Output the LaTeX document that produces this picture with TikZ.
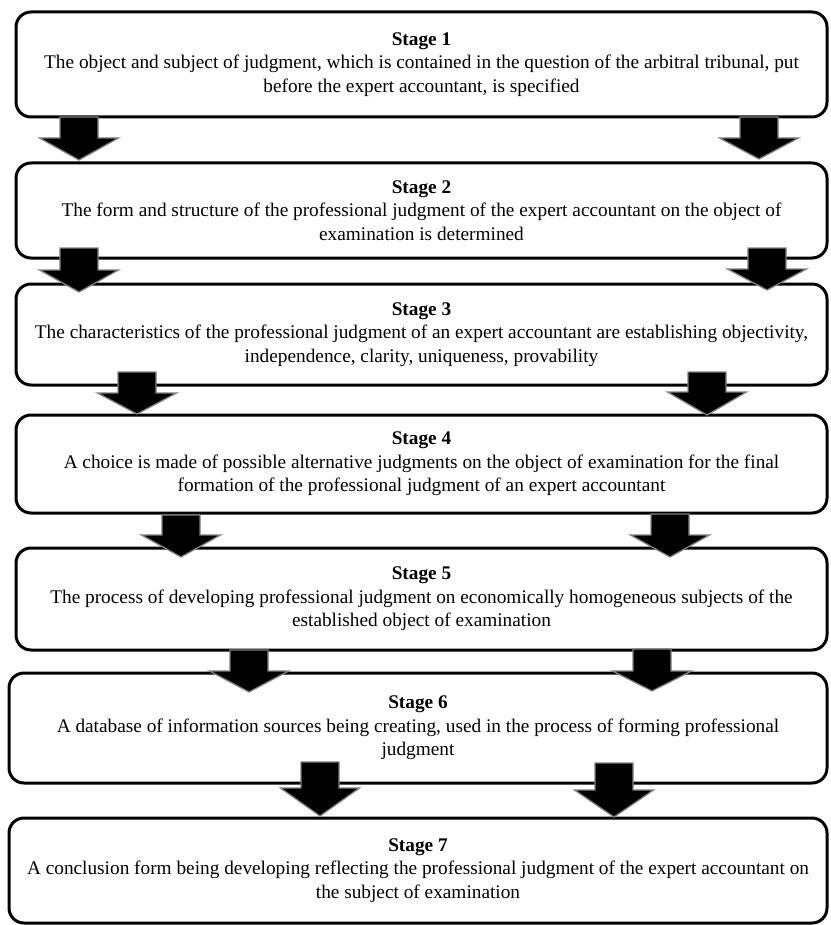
\documentclass[tikz,border=0pt]{standalone}
\usepackage{fontspec}
\setmainfont{Liberation Serif}
\usetikzlibrary{calc}
\tikzset{
  stagebox/.style={draw=black, line width=3pt, rounded corners=15pt, fill=white,
    align=center, inner sep=0pt, font=\fontsize{19.3}{23.5}\selectfont},
  blockarr/.style={fill=black, draw=black!50, line width=1.3pt, line join=miter},
}
% #1 centre x, #2 top y, #3 shoulder y, #4 tip y
\newcommand{\stagearrow}[4]{%
  \draw[blockarr] ({#1-19},#2) -- ({#1+19},#2) -- ({#1+19},#3) -- ({#1+39.5},#3)
    -- (#1,#4) -- ({#1-39.5},#3) -- ({#1-19},#3) -- cycle;}
\begin{document}
\begin{tikzpicture}[x=1pt,y=-1pt]
\useasboundingbox (0,0) rectangle (830,925);
\node[stagebox, minimum width=811pt, minimum height=105pt] (s1) at (421.5,64.5)
  {\textbf{Stage 1}\\The object and subject of judgment, which is contained in the question of the arbitral tribunal, put\\before the expert accountant, is specified};
\node[stagebox, minimum width=811pt, minimum height=95pt] (s2) at (421.5,210.5)
  {\textbf{Stage 2}\\The form and structure of the professional judgment of the expert accountant on the object of\\examination is determined};
\node[stagebox, minimum width=811pt, minimum height=101pt] (s3) at (421.5,334.5)
  {\textbf{Stage 3}\\The characteristics of the professional judgment of an expert accountant are establishing objectivity,\\independence, clarity, uniqueness, provability};
\node[stagebox, minimum width=811pt, minimum height=98pt] (s4) at (421.5,464)
  {\textbf{Stage 4}\\A choice is made of possible alternative judgments on the object of examination for the final\\formation of the professional judgment of an expert accountant};
\node[stagebox, minimum width=811pt, minimum height=102pt] (s5) at (421.5,599)
  {\textbf{Stage 5}\\The process of developing professional judgment on economically homogeneous subjects of the\\established object of examination};
\node[stagebox, minimum width=818pt, minimum height=110pt] (s6) at (418,728)
  {\textbf{Stage 6}\\A database of information sources being creating, used in the process of forming professional\\judgment};
\node[stagebox, minimum width=818pt, minimum height=105pt] (s7) at (418,870.5)
  {\textbf{Stage 7}\\A conclusion form being developing reflecting the professional judgment of the expert accountant on\\the subject of examination};
% s1 -> s2
\stagearrow{79}{117}{138}{160}
\stagearrow{759}{117}{138}{159}
% s2 -> s3
\stagearrow{79}{248}{270}{292}
\stagearrow{767}{248}{269}{290}
% s3 -> s4
\stagearrow{137}{372}{393}{414}
\stagearrow{707}{372}{392}{415}
% s4 -> s5
\stagearrow{181}{515}{535}{557}
\stagearrow{670}{514}{535}{557}
% s5 -> s6
\stagearrow{249}{650}{671}{692}
\stagearrow{652}{649}{671}{691}
% s6 -> s7
\stagearrow{320}{762}{788}{816}
\stagearrow{614}{763}{790}{817}
\end{tikzpicture}
\end{document}
